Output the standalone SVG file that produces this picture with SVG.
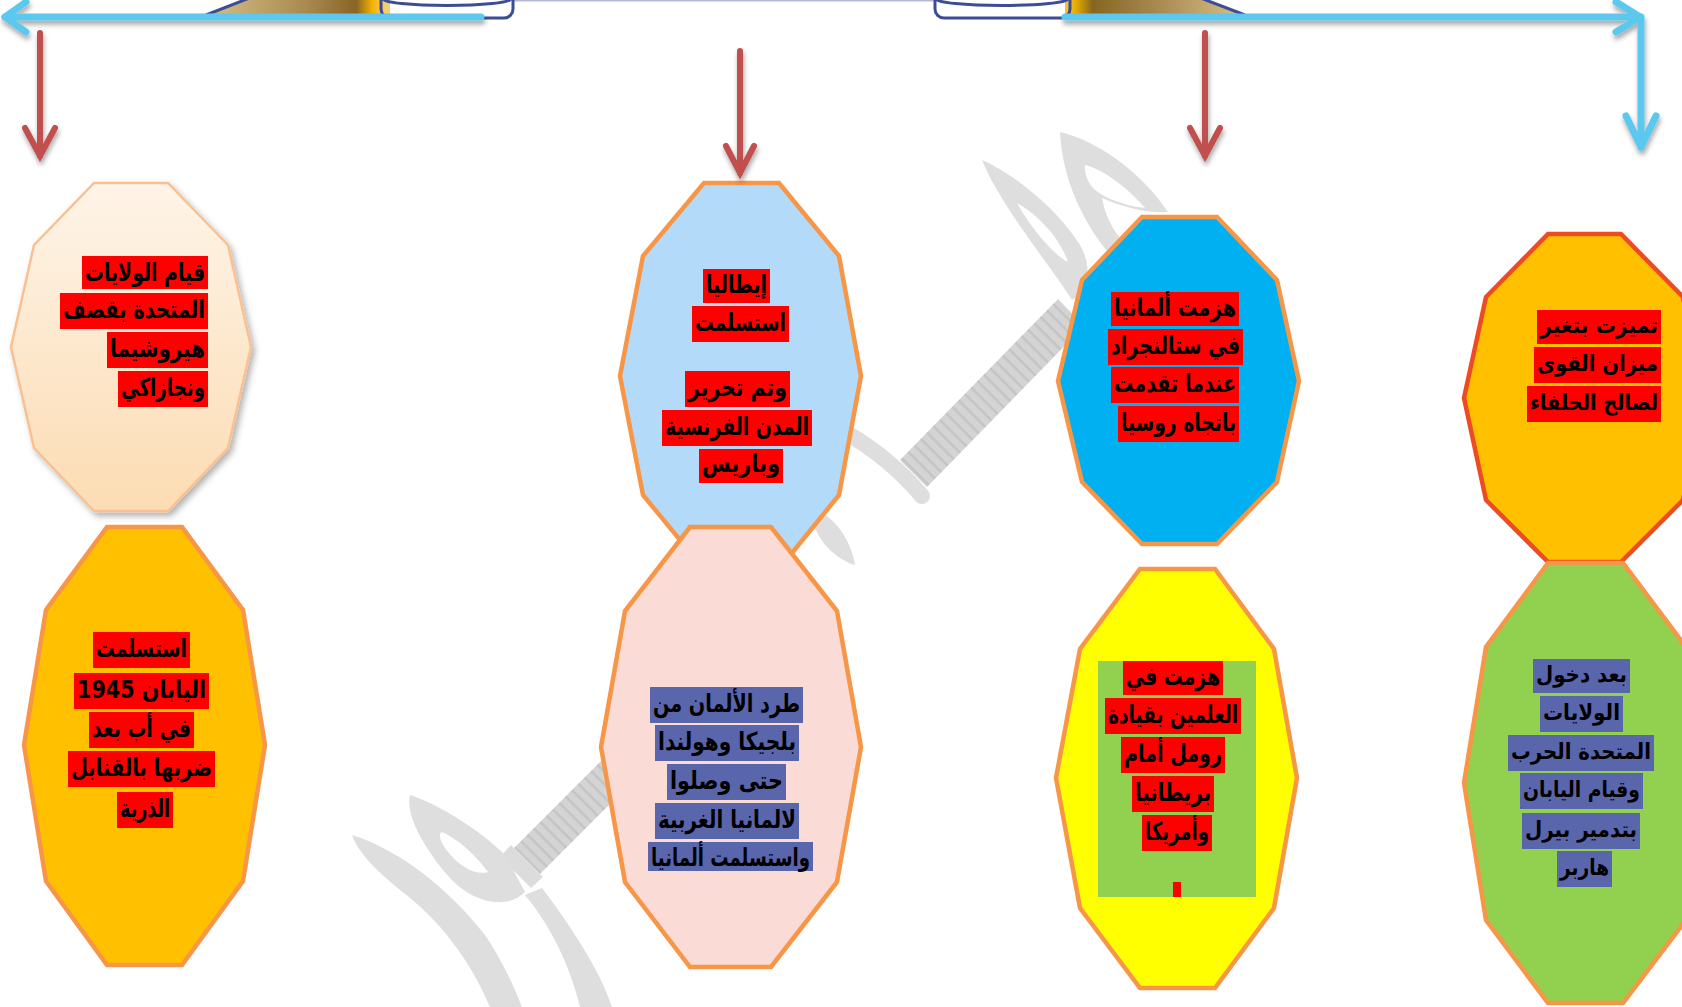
<svg xmlns="http://www.w3.org/2000/svg" width="1682" height="1007" viewBox="0 0 1682 1007">
<defs>
<style>
.t{font-family:"DejaVu Sans",sans-serif;font-weight:bold;font-size:25px;fill:#000;text-anchor:middle;direction:rtl;unicode-bidi:embed}
.s{font-size:22px}
.rb{fill:#FF0000}
.bb{fill:#5A66AC}
.nd{stroke:#F79646;stroke-width:4.5;stroke-linejoin:miter}
.wm{fill:#DEDEDE}
.blue{fill:none;stroke:#5BC8EE;stroke-width:7;stroke-linecap:round;stroke-linejoin:round}
.red{fill:none;stroke:#C0504D;stroke-width:6;stroke-linecap:round;stroke-linejoin:miter}
.navy{fill:none;stroke:#3C4D96;stroke-width:3}
</style>
<linearGradient id="peach" x1="0" y1="0" x2="0" y2="1">
<stop offset="0" stop-color="#FEF4E8"/><stop offset="1" stop-color="#FCDCB3"/>
</linearGradient>
<linearGradient id="goldL" gradientUnits="userSpaceOnUse" x1="206" y1="0" x2="385" y2="0">
<stop offset="0" stop-color="#D6BF87"/><stop offset="0.55" stop-color="#A98B50"/><stop offset="0.84" stop-color="#8A6524"/><stop offset="0.93" stop-color="#F5B300"/><stop offset="1" stop-color="#F6CF6A"/>
</linearGradient>
<linearGradient id="goldR" gradientUnits="userSpaceOnUse" x1="1068" y1="0" x2="1245" y2="0">
<stop offset="0" stop-color="#F6C030"/><stop offset="0.05" stop-color="#E0A800"/><stop offset="0.14" stop-color="#86661F"/><stop offset="0.45" stop-color="#A3844A"/><stop offset="1" stop-color="#D8C08A"/>
</linearGradient>
<linearGradient id="scroll" x1="0" y1="0" x2="1" y2="0">
<stop offset="0" stop-color="#C3A45C"/><stop offset="0.6" stop-color="#E6CC8C"/><stop offset="1" stop-color="#F3DCA0"/>
</linearGradient>
<pattern id="rib" width="9" height="9" patternUnits="userSpaceOnUse" patternTransform="rotate(45)">
<rect width="9" height="9" fill="#D4D4D4"/><rect width="9" height="2.5" fill="#C4C4C4"/>
</pattern>
<filter id="ash" x="-10%" y="-20%" width="120%" height="160%">
<feDropShadow dx="1" dy="4" stdDeviation="2.5" flood-color="#000" flood-opacity="0.35"/>
</filter>
<filter id="nsh" x="-10%" y="-10%" width="125%" height="125%">
<feDropShadow dx="3" dy="4" stdDeviation="3" flood-color="#000" flood-opacity="0.3"/>
</filter>
</defs>
<rect width="1682" height="1007" fill="#FFFFFF"/>

<g id="watermark">
<path class="wm" fill-rule="evenodd" d="M982,160 C1010,172 1055,205 1080,245 C1092,265 1090,290 1072,300 C1050,265 1000,205 982,160 Z M1017,203 C1038,215 1060,238 1068,262 C1055,256 1032,230 1017,203 Z"/>
<path class="wm" fill-rule="evenodd" d="M1060,132 C1095,140 1140,170 1168,212 C1145,214 1118,205 1102,198 C1105,215 1112,228 1120,238 L1108,252 C1085,225 1062,180 1060,132 Z M1085,165 C1105,170 1130,190 1145,208 C1125,206 1105,198 1095,190 C1087,182 1084,172 1085,165 Z"/>
<polygon points="900,460 927,487 1084,326 1058,299" fill="url(#rib)"/>
<path d="M845,432 Q890,458 922,496" fill="none" stroke="#DEDEDE" stroke-width="16" stroke-linecap="round"/>
<path class="wm" d="M806,505 C830,512 850,535 855,565 C838,560 822,545 816,530 Z"/>
<polygon points="514,848 540,874 693,721 667,695" fill="url(#rib)"/>
<polygon points="511,845 543,877 531,888 500,857" fill="#DCDCDC"/>
<path class="wm" fill-rule="evenodd" d="M410,795 C440,805 480,830 505,855 L525,892 C505,912 470,900 450,878 C425,850 405,815 410,795 Z M442,832 C460,840 478,858 488,872 C475,876 458,865 448,852 C440,842 438,834 442,832 Z"/>
<path class="wm" d="M352,835 C400,850 450,890 485,935 C505,965 515,990 522,1007 L490,1007 C470,960 440,920 400,890 C375,870 358,852 352,835 Z"/>
<path class="wm" d="M525,895 L542,888 C570,925 600,970 612,1007 L580,1007 C570,965 550,925 525,895 Z"/>
</g>

<g id="banner">
<line x1="513" y1="0.8" x2="937" y2="0.8" stroke="#B4B9DC" stroke-width="1.6"/>
<polygon points="206,15 252,-3 390,-3 390,15" fill="url(#goldL)"/>
<line x1="206" y1="15" x2="252" y2="-3" class="navy" stroke-width="3.5"/>
<rect x="381" y="-12" width="132" height="30" rx="9" fill="url(#scroll)" class="navy"/>
<ellipse cx="447" cy="-1" rx="64" ry="6.5" fill="url(#scroll)" class="navy"/>
<polygon points="1065,15 1245,15 1198,-3 1065,-3" fill="url(#goldR)"/>
<line x1="1245" y1="15" x2="1198" y2="-3" class="navy" stroke-width="3.5"/>
<rect x="935" y="-12" width="135" height="30" rx="9" fill="url(#scroll)" class="navy"/>
<ellipse cx="1002" cy="-1" rx="66" ry="6.5" fill="url(#scroll)" class="navy"/>
</g>

<g id="node1">
<polygon points="94,183 168,183 228,245 251,347 228,448 168,511 94,511 34,448 11,347 34,245" fill="url(#peach)" stroke="#FAC090" stroke-width="2.5" filter="url(#nsh)"/>
<rect class="rb" x="82" y="256" width="126" height="33"/>
<rect class="rb" x="60" y="293" width="148" height="36"/>
<rect class="rb" x="107" y="332" width="101" height="36"/>
<rect class="rb" x="118" y="371" width="90" height="36"/>
<text class="t" x="145" y="281" textLength="120" lengthAdjust="spacingAndGlyphs">قيام الولايات</text>
<text class="t" x="134" y="318" textLength="142" lengthAdjust="spacingAndGlyphs">المتحدة بقصف</text>
<text class="t" x="157.5" y="357" textLength="95" lengthAdjust="spacingAndGlyphs">هيروشيما</text>
<text class="t" x="163" y="396" textLength="84" lengthAdjust="spacingAndGlyphs">ونجازاكي</text>
</g>

<g id="node2">
<polygon class="nd" points="107,527 182,527 243,610 265,745 243,881 182,965 107,965 46,881 24,745 46,610" fill="#FFC000"/>
<rect class="rb" x="93" y="632" width="97" height="36"/>
<rect class="rb" x="74" y="673" width="135" height="36"/>
<rect class="rb" x="89" y="712" width="105" height="36"/>
<rect class="rb" x="68" y="751" width="147" height="36"/>
<rect class="rb" x="117" y="792" width="56" height="36"/>
<text class="t" x="141.5" y="657" textLength="91" lengthAdjust="spacingAndGlyphs">استسلمت</text>
<text class="t" x="141.5" y="698" textLength="129" lengthAdjust="spacingAndGlyphs">&#x200F;اليابان 1945&#x200F;</text>
<text class="t" x="141.5" y="737" textLength="99" lengthAdjust="spacingAndGlyphs">في أب بعد</text>
<text class="t" x="141.5" y="776" textLength="141" lengthAdjust="spacingAndGlyphs">ضربها بالقنابل</text>
<text class="t" x="145" y="817" textLength="50" lengthAdjust="spacingAndGlyphs">الذرية</text>
</g>

<g id="node3">
<polygon class="nd" points="704,183 779,183 839,256 861,376 839,495 779,569 704,569 643,495 620,376 643,256" fill="#B3DAF8"/>
<rect class="rb" x="703" y="269" width="67" height="34"/>
<rect class="rb" x="692" y="306" width="97" height="36"/>
<rect class="rb" x="685" y="371" width="105" height="36"/>
<rect class="rb" x="662" y="410" width="150" height="36"/>
<rect class="rb" x="699" y="449" width="84" height="34"/>
<text class="t" x="736.5" y="293" textLength="61" lengthAdjust="spacingAndGlyphs">إيطاليا</text>
<text class="t" x="740.5" y="331" textLength="91" lengthAdjust="spacingAndGlyphs">استسلمت</text>
<text class="t" x="737.5" y="396" textLength="99" lengthAdjust="spacingAndGlyphs">وتم تحرير</text>
<text class="t" x="737" y="435" textLength="144" lengthAdjust="spacingAndGlyphs">المدن الفرنسية</text>
<text class="t" x="741" y="472" textLength="78" lengthAdjust="spacingAndGlyphs">وباريس</text>
</g>

<g id="node4">
<polygon class="nd" points="690,527 771,527 837,611 861,747 837,882 771,967 690,967 625,882 601,747 625,611" fill="#FADBD5"/>
<rect class="bb" x="650" y="687" width="153" height="36"/>
<rect class="bb" x="655" y="725" width="144" height="36"/>
<rect class="bb" x="667" y="764" width="119" height="36"/>
<rect class="bb" x="655" y="803" width="144" height="36"/>
<rect class="bb" x="648" y="842" width="165" height="29"/>
<text class="t" x="726.5" y="712" textLength="147" lengthAdjust="spacingAndGlyphs">طرد الألمان من</text>
<text class="t" x="727" y="750" textLength="138" lengthAdjust="spacingAndGlyphs">بلجيكا وهولندا</text>
<text class="t" x="726.5" y="789" textLength="113" lengthAdjust="spacingAndGlyphs">حتى وصلوا</text>
<text class="t" x="727" y="828" textLength="138" lengthAdjust="spacingAndGlyphs">لالمانيا الغربية</text>
<text class="t" x="730.5" y="866" textLength="159" lengthAdjust="spacingAndGlyphs">واستسلمت ألمانيا</text>
</g>

<g id="node5">
<polygon class="nd" points="1142,217 1217,217 1277,280 1299,381 1277,482 1217,544 1142,544 1082,482 1058,381 1082,280" fill="#00B0F0"/>
<rect class="rb" x="1111" y="292" width="128" height="34"/>
<rect class="rb" x="1108" y="329" width="135" height="36"/>
<rect class="rb" x="1111" y="367" width="128" height="36"/>
<rect class="rb" x="1118" y="406" width="121" height="36"/>
<text class="t" x="1175" y="316" textLength="122" lengthAdjust="spacingAndGlyphs">هزمت ألمانيا</text>
<text class="t" x="1175.5" y="354" textLength="129" lengthAdjust="spacingAndGlyphs">في ستالنجراد</text>
<text class="t" x="1175" y="392" textLength="122" lengthAdjust="spacingAndGlyphs">عندما تقدمت</text>
<text class="t" x="1178.5" y="431" textLength="115" lengthAdjust="spacingAndGlyphs">باتجاه روسيا</text>
</g>

<g id="node6">
<polygon points="1548,234 1621,234 1683,297 1705,398 1683,500 1621,562 1548,562 1486,500 1464,398 1486,297" fill="#FFC000" stroke="#EF4B23" stroke-width="4.5"/>
<rect class="rb" x="1537" y="310" width="124" height="34"/>
<rect class="rb" x="1534" y="347" width="127" height="36"/>
<rect class="rb" x="1527" y="386" width="134" height="36"/>
<text class="t s" x="1599" y="333" textLength="118" lengthAdjust="spacingAndGlyphs">تميزت بتغير</text>
<text class="t s" x="1597.5" y="371" textLength="121" lengthAdjust="spacingAndGlyphs">ميزان القوى</text>
<text class="t s" x="1594" y="410" textLength="128" lengthAdjust="spacingAndGlyphs">لصالح الحلفاء</text>
</g>

<g id="node7">
<polygon class="nd" points="1140,569 1215,569 1274,649 1297,778 1274,908 1215,988 1140,988 1080,908 1056,778 1080,649" fill="#FFFF00"/>
<rect x="1098" y="661" width="158" height="236" fill="#92D050"/>
<rect class="rb" x="1123" y="661" width="100" height="34"/>
<rect class="rb" x="1105" y="698" width="136" height="36"/>
<rect class="rb" x="1121" y="737" width="104" height="36"/>
<rect class="rb" x="1132" y="776" width="82" height="36"/>
<rect class="rb" x="1142" y="815" width="70" height="36"/>
<rect class="rb" x="1173" y="882" width="8" height="15"/>
<text class="t" x="1173" y="685" textLength="94" lengthAdjust="spacingAndGlyphs">هزمت في</text>
<text class="t" x="1173" y="723" textLength="130" lengthAdjust="spacingAndGlyphs">العلمين بقيادة</text>
<text class="t" x="1173" y="762" textLength="98" lengthAdjust="spacingAndGlyphs">رومل أمام</text>
<text class="t" x="1173" y="801" textLength="76" lengthAdjust="spacingAndGlyphs">بريطانيا</text>
<text class="t" x="1177" y="840" textLength="64" lengthAdjust="spacingAndGlyphs">وأمريكا</text>
</g>

<g id="node8">
<polygon class="nd" points="1548,563 1623,563 1686,647 1708,783 1686,920 1623,1003 1548,1003 1486,920 1464,783 1486,647" fill="#92D050"/>
<rect class="bb" x="1533" y="659" width="97" height="34"/>
<rect class="bb" x="1540" y="696" width="83" height="36"/>
<rect class="bb" x="1508" y="735" width="146" height="36"/>
<rect class="bb" x="1520" y="773" width="123" height="36"/>
<rect class="bb" x="1522" y="813" width="118" height="36"/>
<rect class="bb" x="1557" y="851" width="55" height="36"/>
<text class="t s" x="1581.5" y="682" textLength="91" lengthAdjust="spacingAndGlyphs">بعد دخول</text>
<text class="t s" x="1581.5" y="720" textLength="77" lengthAdjust="spacingAndGlyphs">الولايات</text>
<text class="t s" x="1581" y="759" textLength="140" lengthAdjust="spacingAndGlyphs">المتحدة الحرب</text>
<text class="t s" x="1581.5" y="797" textLength="117" lengthAdjust="spacingAndGlyphs">وقيام اليابان</text>
<text class="t s" x="1581" y="837" textLength="112" lengthAdjust="spacingAndGlyphs">بتدمير بيرل</text>
<text class="t s" x="1584.5" y="875" textLength="49" lengthAdjust="spacingAndGlyphs">هاربر</text>
</g>

<g id="connectors" filter="url(#ash)">
<path class="blue" d="M481,17 H5"/>
<path class="blue" d="M26,2 L5,17 L26,32"/>
<path class="blue" d="M1065,17 H1641 V147"/>
<path class="blue" d="M1616,2 L1640,17 L1616,32"/>
<path class="blue" d="M1626,116 L1641,147 L1656,116"/>
<path class="red" d="M40,33 V156"/>
<path class="red" d="M25,128 L40,156 L55,128"/>
<path class="red" d="M740,51 V173"/>
<path class="red" d="M726,146 L740,173 L754,146"/>
<path class="red" d="M1205,33 V156"/>
<path class="red" d="M1190,128 L1205,156 L1220,128"/>
</g>
</svg>
